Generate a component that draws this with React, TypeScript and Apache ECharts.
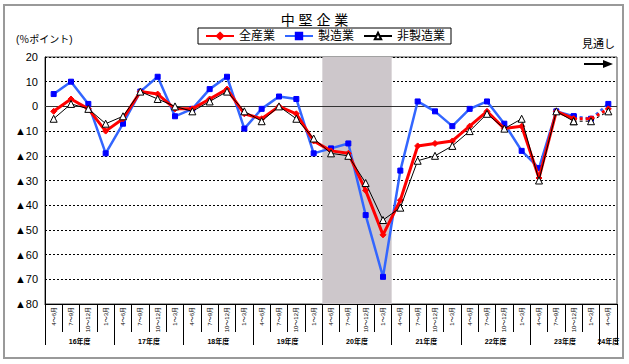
import React, { useEffect, useRef } from 'react';
import * as echarts from 'echarts';

const quarters = [
  '4～6月', '7～9月', '10～12月', '1～3月',
  '4～6月', '7～9月', '10～12月', '1～3月',
  '4～6月', '7～9月', '10～12月', '1～3月',
  '4～6月', '7～9月', '10～12月', '1～3月',
  '4～6月', '7～9月', '10～12月', '1～3月',
  '4～6月', '7～9月', '10～12月', '1～3月',
  '4～6月', '7～9月', '10～12月', '1～3月',
  '4～6月', '7～9月', '10～12月', '1～3月',
  '4～6月',
];
const fiscalYears = ['16年度', '17年度', '18年度', '19年度', '20年度', '21年度', '22年度', '23年度', '24年度'];

const allIndustries = [-2, 3, -1, -10, -5, 6, 5, -1, -1, 3, 7, -3, -5, 0, -3, -14, -18, -19, -34, -52, -38, -16, -15, -14, -8, -2, -9, -8, -29, -2, -5, -5, -1];
const manufacturing = [5, 10, 1, -19, -7, 6, 12, -4, -1, 7, 12, -9, -1, 4, 3, -19, -17, -15, -44, -69, -26, 2, -2, -8, -1, 2, -7, -18, -25, -2, -4, -5, 1];
const nonManufacturing = [-5, 1, -1, -7, -4, 6, 3, 0, -2, 2, 6, -2, -6, 0, -5, -13, -19, -20, -31, -46, -41, -22, -20, -16, -10, -3, -9, -5, -30, -2, -6, -6, -2];

const lastActualIndex = 30;
const shadedYear = '20年度';
const yMin = -80;
const yMax = 20;
const yInterval = 10;

const FONT = '"Liberation Sans", "Noto Sans CJK JP", sans-serif';

function buildOption() {
  const yearStarts: number[] = [];
  quarters.forEach((q, i) => { if (q === '4～6月') yearStarts.push(i); });
  const yearEnds = yearStarts.map((s, k) => (k + 1 < yearStarts.length ? yearStarts[k + 1] : quarters.length));
  const yearCenters = yearStarts.map((s, k) => (s + yearEnds[k]) / 2);
  const sepValues = [...yearStarts, quarters.length];
  const shadeIdx = fiscalYears.indexOf(shadedYear);

  const solid = (d: number[]) => d.map((v, i) => (i <= lastActualIndex ? v : null));
  const dashed = (d: number[]) => d.map((v, i) => (i >= lastActualIndex ? v : null));

  const defs = [
    { name: '製造業', data: manufacturing, line: '#3366ff', width: 2.5, symbol: 'rect', size: 5, fill: '#0000ff', border: '#0000ff', z: 3 },
    { name: '全産業', data: allIndustries, line: '#ff0000', width: 3, symbol: 'diamond', size: 6, fill: '#ff0000', border: '#ff0000', z: 4 },
    { name: '非製造業', data: nonManufacturing, line: '#000000', width: 1, symbol: 'triangle', size: 7, fill: '#ffffff', border: '#000000', z: 5 },
  ];

  const series: any[] = [];
  series.push({
    type: 'line',
    name: 'shade',
    xAxisIndex: 1,
    yAxisIndex: 0,
    data: [],
    z: 1,
    silent: true,
    markArea: {
      silent: true,
      itemStyle: { color: '#cdc7cb' },
      data: [[{ xAxis: yearStarts[shadeIdx] }, { xAxis: yearEnds[shadeIdx] }]],
    },
  });
  defs.forEach((d) => {
    [false, true].forEach((isDash) => {
      series.push({
        type: 'line',
        name: d.name,
        xAxisIndex: 0,
        yAxisIndex: 0,
        data: isDash ? dashed(d.data) : solid(d.data),
        symbol: d.symbol,
        symbolSize: d.size,
        showSymbol: true,
        connectNulls: false,
        z: d.z,
        lineStyle: { color: d.line, width: d.width, type: isDash ? [3, 3] : 'solid' },
        itemStyle: { color: d.fill, borderColor: d.border, borderWidth: 1 },
        ...(d.name === '製造業' && !isDash
          ? {
              markLine: {
                silent: true,
                symbol: 'none',
                label: { show: false },
                lineStyle: { color: '#333333', type: 'solid', width: 1 },
                data: [{ yAxis: 0 }],
                z: 2,
              },
            }
          : {}),
      });
    });
  });

  return {
    animation: false,
    backgroundColor: '#ffffff',
    textStyle: { fontFamily: FONT },
    title: {
      text: '中 堅 企 業',
      left: 'center',
      top: 8,
      textStyle: { fontSize: 14, fontWeight: 'normal', color: '#000', fontFamily: FONT },
    },
    legend: {
      data: ['全産業', '製造業', '非製造業'],
      left: 198,
      top: 28,
      itemWidth: 28,
      itemHeight: 8,
      itemGap: 9,
      padding: [2, 6, 2, 7],
      borderColor: '#000',
      borderWidth: 1,
      borderRadius: 0,
      textStyle: { fontSize: 12, color: '#000', fontFamily: FONT },
    },
    grid: {
      left: 45,
      right: 12,
      top: 57,
      bottom: 60,
      show: true,
      borderColor: '#444',
      borderWidth: 1,
      backgroundColor: 'transparent',
    },
    xAxis: [
      {
        type: 'category',
        data: quarters,
        boundaryGap: true,
        position: 'bottom',
        axisLine: { show: true, onZero: false, lineStyle: { color: '#000', width: 1 } },
        axisTick: { show: true, interval: 0, length: 28, lineStyle: { color: '#000' } },
        axisLabel: { interval: 0, rotate: 90, fontSize: 6, margin: 3, color: '#000', fontFamily: FONT },
        splitLine: { show: false },
      },
      {
        type: 'value',
        min: 0,
        max: quarters.length,
        position: 'bottom',
        axisLine: { show: false, onZero: false },
        axisTick: { show: true, customValues: sepValues, length: 41, lineStyle: { color: '#000' } },
        axisLabel: {
          customValues: yearCenters,
          margin: 34,
          fontSize: 7,
          fontWeight: 'bold',
          color: '#000',
          fontFamily: FONT,
          formatter: (v: number) => {
            const k = yearCenters.findIndex((c) => Math.abs(c - v) < 1e-6);
            return k >= 0 ? fiscalYears[k] : '';
          },
        },
        splitLine: { show: false },
      },
    ],
    yAxis: {
      type: 'value',
      min: yMin,
      max: yMax,
      interval: yInterval,
      axisLine: { show: true, lineStyle: { color: '#000', width: 1 } },
      axisTick: { show: false },
      axisLabel: {
        fontSize: 11,
        color: '#000',
        margin: 7,
        fontFamily: FONT,
        formatter: (v: number) => (v < 0 ? '▲' + (-v) : String(v)),
      },
      splitLine: { show: true, lineStyle: { color: '#000', type: [2, 2], width: 1 } },
    },
    graphic: [
      {
        type: 'rect',
        shape: { x: 4, y: 5, width: 619, height: 353 },
        style: { fill: 'none', stroke: '#999', lineWidth: 2 },
        silent: true,
      },
      {
        type: 'text',
        x: 16,
        y: 34,
        style: { text: '(％ポイント)', fontSize: 10, fill: '#000', fontFamily: FONT },
      },
      {
        type: 'text',
        x: 582,
        y: 38,
        style: { text: '見通し', fontSize: 11, fill: '#000', fontFamily: FONT },
      },
      {
        type: 'line',
        shape: { x1: 584, y1: 64, x2: 605, y2: 64 },
        style: { stroke: '#000', lineWidth: 2 },
      },
      {
        type: 'polygon',
        shape: { points: [[603, 60], [613, 64], [603, 68]] },
        style: { fill: '#000' },
      },
    ],
    series,
  };
}

export default function App() {
  const ref = useRef<HTMLDivElement>(null);
  useEffect(() => {
    if (!ref.current) return;
    const chart = echarts.init(ref.current, undefined, { renderer: 'svg' });
    chart.setOption(buildOption() as any);
    return () => chart.dispose();
  }, []);
  return <div ref={ref} style={{ position: 'absolute', left: 0, top: 0, width: 629, height: 364 }} />;
}
